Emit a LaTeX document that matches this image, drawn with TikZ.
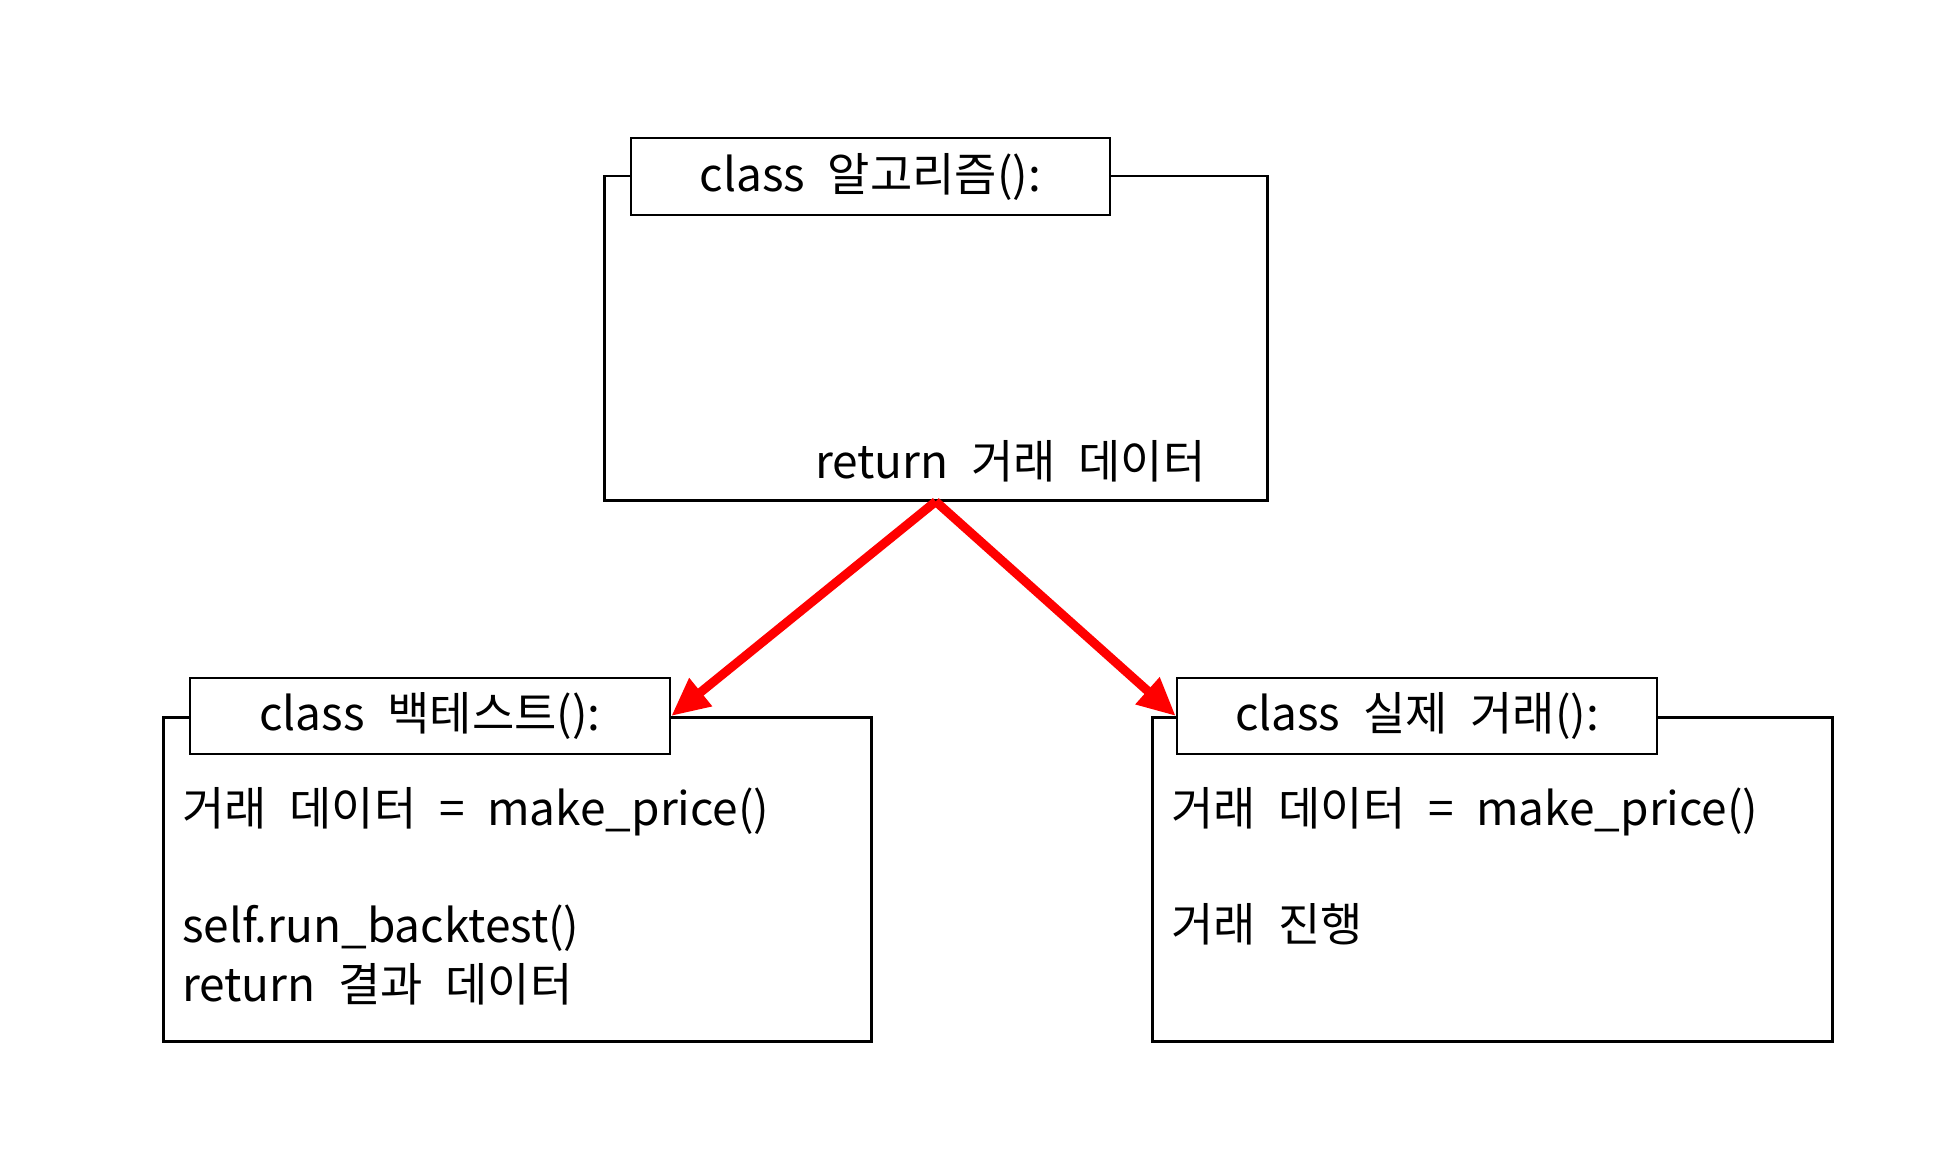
\documentclass[tikz,border=0pt]{standalone}
\usepackage{fontspec}
\setmainfont{Noto Sans CJK KR}[WordSpace=2.2]
\usetikzlibrary{arrows.meta}
\tikzset{
  classbox/.style={draw=black, line width=2.5pt, anchor=north west, inner sep=0pt},
  titlebox/.style={draw=black, fill=white, line width=2.5pt, inner sep=0pt, font=\fontsize{46}{54}\selectfont},
  codetext/.style={anchor=west, inner sep=0pt, font=\fontsize{46}{54}\selectfont},
  flow/.style={draw=red, line width=9pt, -{Triangle[length=38pt,width=34pt]}}
}
\begin{document}
\begin{tikzpicture}[x=1pt,y=-1pt]
\useasboundingbox (0,0) rectangle (1945,1150);
% top class
\node[classbox, minimum width=663pt, minimum height=324pt] (algo) at (603,175) {};
\node[titlebox, minimum width=479pt, minimum height=77pt] (algot) at (870.5,176.5) {class 알고리즘():};
\node[codetext] (algor) at (815,461) {return 거래 데이터};
% backtest class
\node[classbox, minimum width=708pt, minimum height=324pt] (bt) at (162,716) {};
\node[titlebox, minimum width=480pt, minimum height=76pt] (btt) at (430,716) {class 백테스트():};
\node[codetext] (bt1) at (182,812) {거래 데이터 = make\_price()};
\node[codetext] (bt2) at (182,928) {self.run\_backtest()};
\node[codetext] (bt3) at (182,984) {return 결과 데이터};
% live class
\node[classbox, minimum width=680pt, minimum height=324pt] (live) at (1151,716) {};
\node[titlebox, minimum width=480pt, minimum height=76pt] (livet) at (1417,716) {class 실제 거래():};
\node[codetext] (lv1) at (1171,812) {거래 데이터 = make\_price()};
\node[codetext] (lv2) at (1171,924) {거래 진행};
% arrows
\draw[flow] (algo.south) -- (btt.east);
\draw[flow] (algo.south) -- (livet.west);
\end{tikzpicture}
\end{document}
